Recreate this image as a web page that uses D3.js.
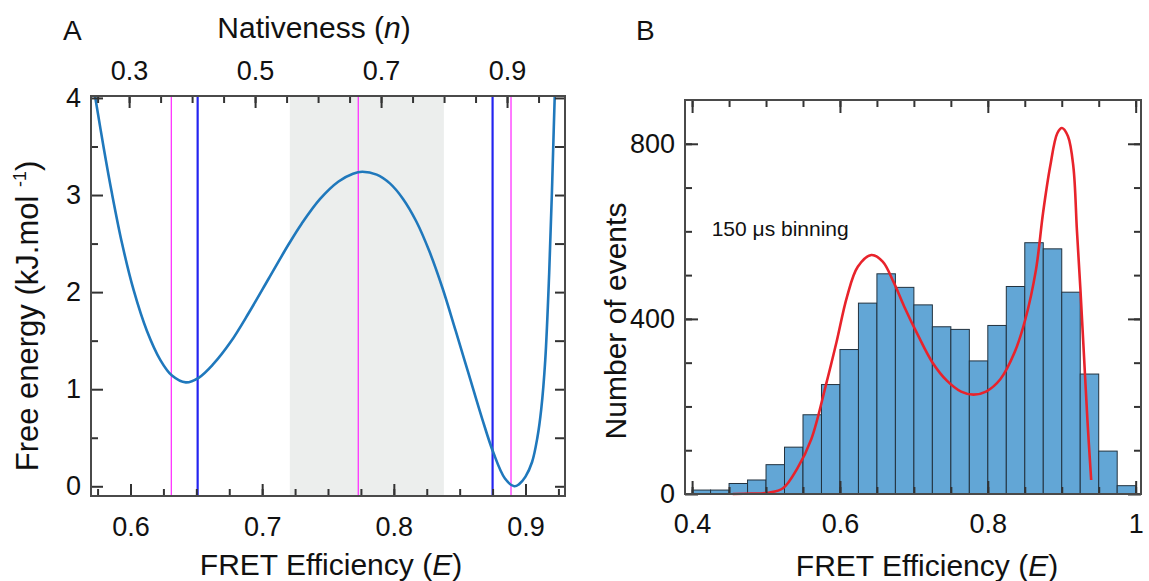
<!DOCTYPE html>
<html>
<head>
<meta charset="utf-8">
<script src="https://cdnjs.cloudflare.com/ajax/libs/d3/7.8.5/d3.min.js"></script>
<style>
body { margin: 0; background: #fff; }
svg text { font-family: "Liberation Sans", Arial, Helvetica, sans-serif; fill: #111; }
</style>
</head>
<body>
<div id="chart"></div>
<script>
// ---- Panel A: free energy profile ----
var energyE = [0.5715, 0.5733, 0.5796, 0.586, 0.5936, 0.6024, 0.6125, 0.6227, 0.6315, 0.642,
  0.652, 0.663, 0.676, 0.69, 0.705, 0.72, 0.73, 0.744, 0.758, 0.769,
  0.776, 0.787, 0.797, 0.807, 0.817, 0.827, 0.837, 0.847, 0.857, 0.867,
  0.8755, 0.8844, 0.8915, 0.895, 0.90, 0.905, 0.909, 0.912, 0.915, 0.918,
  0.92, 0.9215, 0.9225];
var energyG = [4.14, 4.0, 3.49, 3.01, 2.50, 2.02, 1.60, 1.30, 1.14, 1.07,
  1.12, 1.26, 1.485, 1.79, 2.14, 2.49, 2.705, 2.96, 3.14, 3.22,
  3.24, 3.21, 3.12, 2.96, 2.73, 2.42, 2.04, 1.60, 1.15, 0.70,
  0.35, 0.08, 0.0, 0.02, 0.10, 0.25, 0.50, 0.80, 1.30, 2.20,
  3.00, 3.70, 4.15];
var magentaLines = [0.631, 0.773, 0.889];
var blueLines = [0.651, 0.875];
var barrierBand = [0.721, 0.838];
var aBottomTicks = [0.6, 0.7, 0.8, 0.9];
var aTopTicks = [0.3, 0.5, 0.7, 0.9];
var aLeftTicks = [0, 1, 2, 3, 4];

// ---- Panel B: FRET efficiency histogram ----
var binEdges = [0.4, 0.425, 0.45, 0.475, 0.5, 0.525, 0.55, 0.575, 0.6, 0.625, 0.65, 0.675, 0.7,
  0.725, 0.75, 0.775, 0.8, 0.825, 0.85, 0.875, 0.9, 0.925, 0.95, 0.975, 1.0];
var binCounts = [9, 9, 24, 32, 67, 107, 181, 250, 330, 436, 503, 472,
  432, 382, 376, 304, 385, 474, 574, 560, 461, 274, 98, 19];
var fitE = [0.455, 0.48, 0.5036, 0.5229, 0.5422, 0.5614, 0.5807, 0.5952, 0.6096, 0.6241,
  0.6424, 0.6578, 0.6723, 0.6867, 0.706, 0.7253, 0.7446, 0.7639, 0.7807, 0.7976,
  0.8169, 0.8361, 0.8506, 0.8651, 0.8747, 0.8843, 0.894, 0.9003, 0.9084, 0.9157,
  0.9205, 0.9253, 0.9301, 0.9349, 0.9398];
var fitCounts = [0, 1, 3, 13, 58, 126, 247, 346, 451, 519,
  546, 531, 485, 429, 361, 300, 259, 234, 227, 234,
  262, 323, 398, 512, 642, 748, 824, 836, 817, 748,
  603, 466, 315, 164, 32];
var bBottomTicks = [0.4, 0.6, 0.8, 1];
var bLeftTicks = [0, 400, 800];

var tickFont = 27, titleFont = 30;

var svg = d3.select("#chart").append("svg")
  .attr("width", 1149)
  .attr("height", 581);

// styles the tick marks of an axis group, drops the domain line
function styleAxis(g, fontSize) {
  g.select(".domain").remove();
  g.selectAll(".tick line").attr("stroke", "#333").attr("stroke-width", 2);
  g.selectAll(".tick text")
    .attr("fill", "#111")
    .style("font-size", fontSize + "px")
    .style("font-family", "'Liberation Sans', Arial, sans-serif");
}

function addAxis(axis, tx, ty, fontSize) {
  var g = svg.append("g")
    .attr("transform", "translate(" + tx + "," + ty + ")")
    .call(axis);
  styleAxis(g, fontSize);
  return g;
}

/* ===================== Panel A ===================== */
var a = {left: 91, right: 565, top: 96, bottom: 496};

var xA = d3.scaleLinear().domain([0.57, 0.93]).range([a.left, a.right]);
var nA = d3.scaleLinear().domain([0.2395, 0.992]).range([a.left, a.right]);
var yA = d3.scaleLinear().domain([-0.1, 4.02]).range([a.bottom, a.top]);

svg.append("clipPath").attr("id", "clipA")
  .append("rect")
  .attr("x", a.left).attr("y", a.top)
  .attr("width", a.right - a.left).attr("height", a.bottom - a.top);

// transition state region
svg.append("rect")
  .attr("x", xA(barrierBand[0]))
  .attr("y", a.top)
  .attr("width", xA(barrierBand[1]) - xA(barrierBand[0]))
  .attr("height", a.bottom - a.top)
  .attr("fill", "#eceeed");

svg.selectAll(".magenta").data(magentaLines).enter().append("line")
  .attr("class", "magenta")
  .attr("x1", function(d) { return xA(d); })
  .attr("x2", function(d) { return xA(d); })
  .attr("y1", a.top).attr("y2", a.bottom)
  .attr("stroke", "#ff33ff")
  .attr("stroke-width", 1.3);

svg.selectAll(".blueline").data(blueLines).enter().append("line")
  .attr("class", "blueline")
  .attr("x1", function(d) { return xA(d); })
  .attr("x2", function(d) { return xA(d); })
  .attr("y1", a.top).attr("y2", a.bottom)
  .attr("stroke", "#2424f0")
  .attr("stroke-width", 2.2);

var energyLine = d3.line()
  .x(function(d, i) { return xA(energyE[i]); })
  .y(function(d, i) { return yA(energyG[i]); })
  .curve(d3.curveCatmullRom.alpha(0.5));

svg.append("path")
  .datum(energyG)
  .attr("clip-path", "url(#clipA)")
  .attr("d", energyLine)
  .attr("fill", "none")
  .attr("stroke", "#1f78bc")
  .attr("stroke-width", 2.6);

// ticks, all pointing inwards
addAxis(d3.axisBottom(xA).tickValues(d3.range(0.575, 0.93, 0.025)).tickSize(-7).tickFormat(""), 0, a.bottom, 0);
addAxis(d3.axisBottom(xA).tickValues(aBottomTicks).tickSize(-12).tickPadding(21).tickFormat(d3.format(".1f")), 0, a.bottom, tickFont);
addAxis(d3.axisTop(nA).tickValues(d3.range(0.25, 0.99, 0.05)).tickSize(-7).tickFormat(""), 0, a.top, 0);
addAxis(d3.axisTop(nA).tickValues(aTopTicks).tickSize(-12).tickPadding(16).tickFormat(d3.format(".1f")), 0, a.top, tickFont);
addAxis(d3.axisLeft(yA).tickValues([0.5, 1.5, 2.5, 3.5]).tickSize(-7).tickFormat(""), a.left, 0, 0);
addAxis(d3.axisLeft(yA).tickValues(aLeftTicks).tickSize(-12).tickPadding(10).tickFormat(d3.format("d")), a.left, 0, tickFont);
addAxis(d3.axisRight(yA).tickValues(d3.range(0, 4.01, 0.5)).tickSize(-10).tickFormat(""), a.right, 0, 0);

svg.append("rect")
  .attr("x", a.left).attr("y", a.top)
  .attr("width", a.right - a.left).attr("height", a.bottom - a.top)
  .attr("fill", "none")
  .attr("stroke", "#4a4a4a")
  .attr("stroke-width", 2);

svg.append("text")
  .attr("x", 63).attr("y", 40)
  .style("font-size", "28px")
  .text("A");

var natTitle = svg.append("text")
  .attr("x", 314)
  .attr("y", 38)
  .attr("text-anchor", "middle")
  .style("font-size", titleFont + "px");
natTitle.append("tspan").text("Nativeness (");
natTitle.append("tspan").style("font-style", "italic").text("n");
natTitle.append("tspan").text(")");

var fretA = svg.append("text")
  .attr("x", 331).attr("y", 575)
  .attr("text-anchor", "middle")
  .style("font-size", titleFont + "px");
fretA.append("tspan").text("FRET Efficiency (");
fretA.append("tspan").style("font-style", "italic").text("E");
fretA.append("tspan").text(")");

var feTitle = svg.append("text")
  .attr("transform", "translate(38,316) rotate(-90)")
  .attr("text-anchor", "middle")
  .style("font-size", "31px");
feTitle.append("tspan").text("Free energy (kJ.mol ");
feTitle.append("tspan").attr("dy", -12).style("font-size", "18px").text("-1");
feTitle.append("tspan").attr("dy", 12).text(")");

/* ===================== Panel B ===================== */
var b = {left: 685, right: 1141, top: 100, bottom: 494};

var xB = d3.scaleLinear().domain([0.3904, 1.0072]).range([b.left, b.right]);
var yB = d3.scaleLinear().domain([0, 900]).range([b.bottom, b.top]);

svg.selectAll(".bar").data(binCounts).enter().append("rect")
  .attr("class", "bar")
  .attr("x", function(d, i) { return xB(binEdges[i]); })
  .attr("y", function(d) { return yB(d); })
  .attr("width", function(d, i) { return xB(binEdges[i + 1]) - xB(binEdges[i]); })
  .attr("height", function(d) { return yB(0) - yB(d); })
  .attr("fill", "#62a6d6")
  .attr("stroke", "#22323f")
  .attr("stroke-width", 1);

var fitLine = d3.line()
  .x(function(d, i) { return xB(fitE[i]); })
  .y(function(d, i) { return yB(d); })
  .curve(d3.curveCatmullRom);

svg.append("path")
  .datum(fitCounts)
  .attr("d", fitLine)
  .attr("fill", "none")
  .attr("stroke", "#e8232b")
  .attr("stroke-width", 2.6);

addAxis(d3.axisBottom(xB).tickValues(d3.range(0.4, 1.01, 0.05)).tickSize(-7).tickFormat(""), 0, b.bottom, 0);
addAxis(d3.axisBottom(xB).tickValues(bBottomTicks).tickSize(-13).tickPadding(20).tickFormat(function(d) { return d === 1 ? "1" : d3.format(".1f")(d); }), 0, b.bottom, tickFont);
addAxis(d3.axisTop(xB).tickValues(d3.range(0.4, 1.01, 0.05)).tickSize(-7).tickFormat(""), 0, b.top, 0);
addAxis(d3.axisTop(xB).tickValues(bBottomTicks).tickSize(-13).tickFormat(""), 0, b.top, 0);
addAxis(d3.axisLeft(yB).tickValues(d3.range(100, 900, 100)).tickSize(-7).tickFormat(""), b.left, 0, 0);
addAxis(d3.axisLeft(yB).tickValues(bLeftTicks).tickSize(-13).tickPadding(10).tickFormat(d3.format("d")), b.left, 0, tickFont);
addAxis(d3.axisRight(yB).tickValues(d3.range(100, 900, 100)).tickSize(-7).tickFormat(""), b.right, 0, 0);
addAxis(d3.axisRight(yB).tickValues(bLeftTicks).tickSize(-13).tickFormat(""), b.right, 0, 0);

svg.append("rect")
  .attr("x", b.left).attr("y", b.top)
  .attr("width", b.right - b.left).attr("height", b.bottom - b.top)
  .attr("fill", "none")
  .attr("stroke", "#4a4a4a")
  .attr("stroke-width", 2);

svg.append("text")
  .attr("x", xB(0.4265)).attr("y", yB(589))
  .style("font-size", "21px")
  .text("150 \u03bcs binning");

svg.append("text")
  .attr("x", 636).attr("y", 40)
  .style("font-size", "28px")
  .text("B");

svg.append("text")
  .attr("transform", "translate(626,321) rotate(-90)")
  .attr("text-anchor", "middle")
  .style("font-size", titleFont + "px")
  .text("Number of events");

var fretB = svg.append("text")
  .attr("x", 927).attr("y", 576)
  .attr("text-anchor", "middle")
  .style("font-size", titleFont + "px");
fretB.append("tspan").text("FRET Efficiency (");
fretB.append("tspan").style("font-style", "italic").text("E");
fretB.append("tspan").text(")");
</script>
</body>
</html>
